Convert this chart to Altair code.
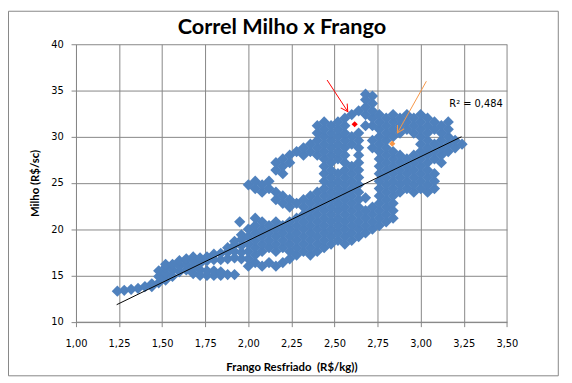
import altair as alt
import pandas as pd

# Each entry: a Frango (R$/kg) position and the Milho (R$/sc) values read at it
columns = [
    (1.24, [13.3]),
    (1.28, [13.4]),
    (1.32, [13.5]),
    (1.36, [13.6]),
    (1.40, [13.8]),
    (1.44, [13.8, 14.1]),
    (1.48, [14.2, 14.9, 15.5]),
    (1.52, [14.5, 15.2, 15.9, 16.2]),
    (1.56, [14.9, 15.6, 16.2]),
    (1.60, [15.4, 16.0, 16.6]),
    (1.64, [15.6, 16.2, 16.8]),
    (1.68, [15.2, 15.9, 16.6, 17.0]),
    (1.72, [15.0, 15.6, 16.3, 16.9]),
    (1.76, [15.0, 15.5, 16.6, 17.0]),
    (1.80, [15.0, 15.5, 16.7, 17.3]),
    (1.84, [15.0, 15.4, 16.7, 17.4]),
    (1.88, [15.1, 16.8, 17.5, 18.0]),
    (1.92, [15.1, 16.9, 17.6, 18.3, 18.7]),
    (1.95, [20.8]),
    (1.96, [16.8, 17.5, 18.2, 18.9, 19.4]),
    (2.00, [16.0, 16.8, 17.6, 18.4, 19.2, 20.0, 24.8]),
    (2.04, [16.4, 17.2, 18.0, 18.8, 19.6, 20.4, 21.2, 24.4, 25.2]),
    (2.08, [16.0, 17.6, 18.4, 19.2, 20.0, 20.8, 24.0, 24.8]),
    (2.12, [16.4, 18.0, 18.8, 19.6, 20.4, 24.4, 25.2]),
    (2.16, [16.0, 17.6, 18.4, 19.2, 20.0, 20.8, 23.2, 24.0, 26.4, 27.2]),
    (2.20, [16.4, 18.0, 18.8, 19.6, 20.4, 22.8, 23.6, 26.0, 26.8, 27.6]),
    (2.24, [16.8, 17.6, 18.4, 19.2, 20.0, 20.8, 22.4, 23.2, 27.2, 28.0]),
    (2.28, [17.2, 18.0, 18.8, 19.6, 20.4, 21.2, 22.8, 28.4]),
    (2.32, [17.6, 18.4, 19.2, 20.0, 20.8, 21.6, 22.4, 23.2, 28.0, 28.8]),
    (2.36, [17.2, 18.0, 18.8, 19.6, 20.4, 21.2, 22.0, 22.8, 23.6, 28.4, 29.2]),
    (2.40, [17.6, 18.4, 19.2, 20.0, 20.8, 21.6, 22.4, 23.2, 24.0, 28.0, 28.8,
            29.6, 30.4, 31.2]),
    (2.44, [18.0, 18.8, 19.6, 20.4, 21.2, 22.0, 22.8, 23.6, 24.4, 25.2, 26.0,
            26.8, 27.6, 28.4, 29.2, 30.0, 30.8, 31.6]),
    (2.48, [18.4, 19.2, 20.0, 20.8, 21.6, 22.4, 23.2, 24.0, 24.8, 25.6, 26.4,
            27.2, 28.0, 28.8, 29.6, 30.4, 31.2]),
    (2.52, [18.8, 19.6, 20.4, 21.2, 22.0, 22.8, 23.6, 24.4, 25.2, 26.0,
            27.6, 28.4, 29.2, 30.0, 30.8, 31.6]),
    (2.56, [18.4, 19.2, 20.0, 20.8, 21.6, 22.4, 23.2, 24.0, 24.8, 25.6, 26.4,
            27.2, 28.0, 28.8, 29.6, 30.4, 31.2, 32.0]),
    (2.60, [18.8, 19.6, 20.4, 21.2, 22.0, 22.8, 23.6, 24.4, 25.2, 26.0, 26.8,
            29.2, 30.0, 32.4]),
    (2.64, [19.2, 20.0, 20.8, 21.6, 22.4, 23.2, 24.0, 24.8, 25.6, 26.4, 27.2,
            28.0, 28.8, 29.6, 30.4, 32.8]),
    (2.68, [19.6, 20.4, 21.2, 22.0, 23.4, 31.2, 32.4, 33.2, 34.0, 34.6]),
    (2.72, [20.0, 20.8, 21.6, 22.4, 28.8, 29.6, 31.2, 32.0, 32.8, 33.6, 34.4]),
    (2.76, [20.4, 21.2, 22.0, 22.8, 23.6, 24.4, 25.2, 26.0, 26.8, 27.6, 28.4,
            29.2, 30.0, 30.8, 31.6, 32.4]),
    (2.80, [20.8, 21.6, 22.4, 23.2, 24.0, 24.8, 25.6, 26.4, 27.2, 28.0, 28.8,
            29.6, 30.4, 31.2, 32.0]),
    (2.84, [21.2, 22.0, 22.8, 23.6, 24.4, 25.2, 26.0, 26.8, 27.6, 28.4, 30.0,
            30.8, 31.6, 32.4]),
    (2.88, [24.0, 24.8, 25.6, 26.4, 27.2, 28.0, 30.4, 31.2, 32.0]),
    (2.92, [24.4, 25.2, 26.0, 26.8, 27.6, 30.8, 31.6, 32.4]),
    (2.96, [24.0, 24.8, 25.6, 26.4, 27.2, 28.0, 30.4, 31.2, 32.0]),
    (3.00, [24.4, 25.2, 26.0, 26.8, 27.6, 28.4, 29.2, 30.0, 30.8, 31.6, 32.4]),
    (3.04, [24.0, 24.8, 25.6, 26.4, 27.2, 28.0, 28.8, 29.6, 30.4, 31.2, 32.0]),
    (3.08, [24.4, 25.2, 26.0, 27.6, 28.4, 29.2, 30.8, 31.6]),
    (3.12, [27.2, 28.0, 28.8, 29.6, 30.4, 31.2]),
    (3.16, [28.4, 29.2, 30.0, 30.8, 31.6]),
    (3.20, [28.8, 29.6]),
    (3.24, [29.2]),
]

trend_frango = [1.236, 3.237]
trend_milho = [11.84, 30.0]

red_point_frango = [2.617]
red_point_milho = [31.35]
orange_point_frango = [2.835]
orange_point_milho = [29.25]

red_arrow_frango = [2.457, 2.577]
red_arrow_milho = [36.13, 32.72]
orange_arrow_frango = [3.033, 2.865]
orange_arrow_milho = [36.0, 30.41]

r2_label = "R\u00b2 = 0,484"
r2_frango = [3.166]
r2_milho = [33.57]

x_ticks = [1.00, 1.25, 1.50, 1.75, 2.00, 2.25, 2.50, 2.75, 3.00, 3.25, 3.50]
y_ticks = [10, 15, 20, 25, 30, 35, 40]

title_text = "Correl Milho x Frango"
x_title = "Frango Resfriado\u00a0 (R$/kg))"
y_title = "Milho (R$/sc)"

# ---------------------------------------------------------------------------
rows = []
for fx, ys in columns:
    for yv in ys:
        rows.append({"frango": fx, "milho": yv})
points = pd.DataFrame(rows)

GRID = "#868686"
W, H = 437.3, 281.6

x_enc = alt.X(
    "frango:Q",
    scale=alt.Scale(domain=[1.0, 3.5], nice=False, zero=False),
    axis=alt.Axis(
        values=x_ticks,
        labelExpr="replace(format(datum.value, '.2f'), '.', ',')",
        title=x_title,
        titleFont="Lato", titleFontSize=11.5, titleFontWeight="bold",
        titleColor="black", titleX=W / 2, titleY=50,
        titleAlign="center", titleBaseline="alphabetic",
        labelFont="DejaVu Sans", labelFontSize=10, labelColor="black",
        labelPadding=12, tickSize=5, tickColor=GRID, domainColor=GRID,
        gridColor=GRID, grid=True, labelFlush=False, labelOverlap=False,
    ),
)
y_enc = alt.Y(
    "milho:Q",
    scale=alt.Scale(domain=[10, 40], nice=False, zero=False),
    axis=alt.Axis(
        values=y_ticks,
        format="d",
        title=y_title,
        titleFont="Lato", titleFontSize=11.5, titleFontWeight="bold",
        titleColor="black", titleX=-38, titleY=H / 2, titleAngle=-90,
        titleAlign="center", titleBaseline="alphabetic",
        labelFont="DejaVu Sans", labelFontSize=10, labelColor="black",
        labelPadding=8, tickSize=5, tickColor=GRID, domainColor=GRID,
        gridColor=GRID, grid=True, labelFlush=False, labelOverlap=False,
    ),
)

one = pd.DataFrame({"k": [0]})

frame = alt.Chart(one).mark_rect(
    filled=False, stroke=GRID, strokeWidth=1
).encode(
    x=alt.value(-68.5), x2=alt.value(489.5),
    y=alt.value(-33.5), y2=alt.value(336.5),
)

scatter = alt.Chart(points).mark_point(
    shape="diamond", filled=True, size=130, color="#4f81bd", opacity=1
).encode(x=x_enc, y=y_enc)

red_pt = alt.Chart(pd.DataFrame({"frango": red_point_frango, "milho": red_point_milho})).mark_point(
    shape="diamond", filled=True, size=40, color="#ff0000", opacity=1
).encode(x=x_enc, y=y_enc)

orange_pt = alt.Chart(pd.DataFrame({"frango": orange_point_frango, "milho": orange_point_milho})).mark_point(
    shape="diamond", filled=True, size=40, color="#f79646", opacity=1
).encode(x=x_enc, y=y_enc)

trend = alt.Chart(pd.DataFrame({"frango": trend_frango, "milho": trend_milho})).mark_line(
    color="black", strokeWidth=1
).encode(x=x_enc, y=y_enc)

red_df = pd.DataFrame({"frango": red_arrow_frango, "milho": red_arrow_milho})
orange_df = pd.DataFrame({"frango": orange_arrow_frango, "milho": orange_arrow_milho})

red_line = alt.Chart(red_df).mark_line(color="#ff0000", strokeWidth=1).encode(
    x=x_enc, y=y_enc)
orange_line = alt.Chart(orange_df).mark_line(color="#f79646", strokeWidth=1).encode(
    x=x_enc, y=y_enc)

HEAD = "M-0.55,1L0,0L0.55,1"
red_head = alt.Chart(red_df.iloc[[1]]).mark_point(
    shape=HEAD, filled=False, stroke="#ff0000", strokeWidth=1, size=200,
    angle=146.7, opacity=1
).encode(x=x_enc, y=y_enc)
orange_head = alt.Chart(orange_df.iloc[[1]]).mark_point(
    shape=HEAD, filled=False, stroke="#f79646", strokeWidth=1, size=200,
    angle=209.3, opacity=1
).encode(x=x_enc, y=y_enc)

r2 = alt.Chart(pd.DataFrame({"frango": r2_frango, "milho": r2_milho})).mark_text(
    text=r2_label, align="left", baseline="middle", font="DejaVu Sans",
    fontSize=10, color="black"
).encode(x=x_enc, y=y_enc)

title = alt.Chart(one).mark_text(
    text=title_text, font="Lato", fontSize=22, fontWeight="bold",
    align="center", baseline="alphabetic", color="black"
).encode(x=alt.value(209), y=alt.value(-10))

chart = alt.layer(
    frame, scatter, red_pt, orange_pt, trend, red_line, orange_line,
    red_head, orange_head, r2, title
).properties(
    width=W, height=H,
    autosize=alt.AutoSizeParams(type="none"),
    padding={"left": 69, "top": 34, "right": 58, "bottom": 59},
    background="white",
).configure_view(stroke=None)

chart.save("out.html", embed_options={"renderer": "svg", "actions": False})
